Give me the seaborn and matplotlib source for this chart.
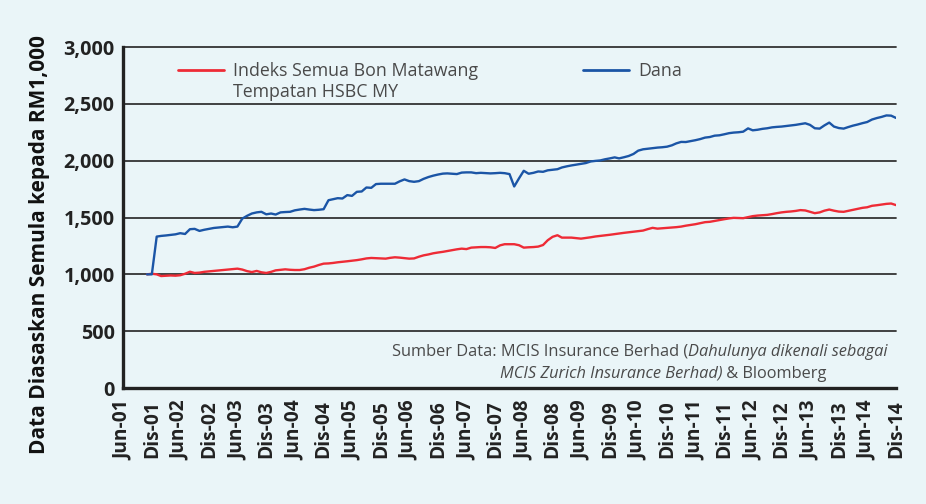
import numpy as np
import pandas as pd
import matplotlib
matplotlib.use("Agg")
import matplotlib.pyplot as plt
import seaborn as sns
from matplotlib.lines import Line2D

# ---------------- data (monthly, Nov-2001 .. Dec-2014) ----------------
start_month = "2001-11-30"

dana = [
    1000, 1000, 1332, 1338, 1342, 1347, 1352, 1362, 1355, 1397, 1400, 1382,
    1392, 1400, 1408, 1412, 1416, 1420, 1414, 1420, 1490, 1515, 1535, 1545,
    1550, 1528, 1535, 1526, 1545, 1548, 1550, 1563, 1570, 1576, 1570, 1565,
    1568, 1573, 1652, 1661, 1670, 1667, 1697, 1690, 1726, 1729, 1764, 1761,
    1794, 1797, 1797, 1797, 1797, 1818, 1835, 1820, 1814, 1820, 1840, 1856,
    1868, 1878, 1886, 1888, 1885, 1882, 1895, 1897, 1897, 1890, 1893, 1890,
    1888, 1890, 1893, 1890, 1882, 1773, 1845, 1911, 1885, 1893, 1905, 1902,
    1915, 1920, 1925, 1940, 1950, 1958, 1965, 1972, 1979, 1993, 1998, 2002,
    2012, 2020, 2029, 2020, 2030, 2041, 2059, 2088, 2100, 2105, 2110, 2115,
    2118, 2123, 2135, 2152, 2165, 2164, 2172, 2180, 2190, 2203, 2208, 2220,
    2223, 2232, 2242, 2247, 2250, 2255, 2284, 2267, 2272, 2280, 2285, 2293,
    2297, 2300, 2305, 2310, 2315, 2322, 2329, 2315, 2285, 2282, 2310, 2335,
    2300, 2287, 2282, 2295, 2308, 2318, 2330, 2340, 2362, 2375, 2385, 2398,
    2396, 2376,
]

indeks = [
    1000, 1005, 1000, 985, 988, 990, 988, 992, 1005, 1023, 1012, 1015,
    1022, 1026, 1030, 1034, 1038, 1042, 1046, 1050, 1042, 1028, 1020, 1030,
    1018, 1012, 1022, 1035, 1040, 1044, 1040, 1038, 1038, 1045, 1058, 1068,
    1082, 1094, 1096, 1100, 1106, 1110, 1115, 1120, 1125, 1132, 1140, 1144,
    1142, 1140, 1138, 1145, 1150, 1147, 1142, 1138, 1140, 1155, 1167, 1175,
    1185, 1192, 1198, 1205, 1212, 1220, 1226, 1222, 1235, 1238, 1240, 1240,
    1238, 1232, 1255, 1265, 1265, 1265, 1256, 1235, 1238, 1240, 1244, 1258,
    1300, 1330, 1344, 1323, 1323, 1323, 1318, 1314, 1320, 1326, 1333, 1338,
    1343, 1348, 1354, 1360, 1365, 1370, 1375, 1380, 1385, 1398, 1409, 1402,
    1405, 1408, 1412, 1415, 1420, 1428, 1435, 1441, 1450, 1459, 1462, 1470,
    1478, 1485, 1492, 1497, 1495, 1494, 1503, 1512, 1517, 1520, 1523, 1530,
    1538, 1545, 1550, 1553, 1558, 1565, 1562, 1550, 1538, 1545, 1560, 1570,
    1560, 1552, 1550, 1558, 1567, 1575, 1585, 1590, 1603, 1608, 1614, 1620,
    1623, 1609,
]

series_labels = ["Indeks Semua Bon Matawang", "Dana"]
series_label_line2 = "Tempatan HSBC MY"

tick_labels = [
    "Jun-01", "Dis-01", "Jun-02", "Dis-02", "Jun-03", "Dis-03", "Jun-04",
    "Dis-04", "Jun-05", "Dis-05", "Jun-06", "Dis-06", "Jun-07", "Dis-07",
    "Jun-08", "Dis-08", "Jun-09", "Dis-09", "Jun-10", "Dis-10", "Jun-11",
    "Dis-11", "Jun-12", "Dis-12", "Jun-13", "Dis-13", "Jun-14", "Dis-14",
]
y_ticks = [0, 500, 1000, 1500, 2000, 2500, 3000]
y_tick_labels = ["0", "500", "1,000", "1,500", "2,000", "2,500", "3,000"]

y_label = "Data Diasaskan Semula kepada RM1,000"
src_1a = "Sumber Data: MCIS Insurance Berhad ("
src_1b = "Dahulunya dikenali sebagai"
src_2a = "MCIS Zurich Insurance Berhad)"
src_2b = " & Bloomberg"

# ---------------- style ----------------
BG = "#EAF5F8"
RED = "#EE2B36"
BLUE = "#1B55A6"
TXT = "#4A4A4A"

sns.set_style("white")
plt.rcParams["font.family"] = ["Open Sans", "DejaVu Sans"]

W, H = 926, 504
fig = plt.figure(figsize=(W / 100, H / 100), dpi=100, facecolor=BG)
L, R, T, B = 123, 896, 47, 388
ax = fig.add_axes([L / W, 1 - B / H, (R - L) / W, (B - T) / H])
ax.set_facecolor(BG)

def ax_x(px):
    return (px - L) / (R - L)

def ax_y(py):
    return (B - py) / (B - T)

n = len(dana)
dates = pd.date_range(start_month, periods=n, freq="ME")
df = pd.DataFrame({
    "Tarikh": list(dates) * 2,
    "Nilai": indeks + dana,
    "Siri": [series_labels[0]] * n + [series_labels[1]] * n,
})

sns.lineplot(data=df, x="Tarikh", y="Nilai", hue="Siri",
             palette={series_labels[0]: RED, series_labels[1]: BLUE},
             linewidth=1.7, ax=ax, legend=False, zorder=3)

# axes
tick_dates = pd.date_range("2001-06-30", "2014-12-31", freq="6ME")
ax.set_xlim(tick_dates[0], tick_dates[-1])
ax.set_ylim(0, 3000)
ax.set_xticks(tick_dates)
ax.set_xticklabels(tick_labels, rotation=90, fontsize=13.8, fontweight="bold",
                   color="#222222")
ax.set_yticks(y_ticks)
ax.set_yticklabels(y_tick_labels, fontsize=14.2, fontweight="bold",
                   color="#222222")
ax.set_xlabel("")
ax.set_ylabel("")

ax.tick_params(axis="x", direction="out", length=6, width=2, color="#222222", pad=3)
ax.tick_params(axis="y", direction="out", length=4, width=1.5, color="#222222", pad=2)

for s in ["top", "right"]:
    ax.spines[s].set_visible(False)
for s in ["left", "bottom"]:
    ax.spines[s].set_color("#222222")
    ax.spines[s].set_linewidth(2.4)
    ax.spines[s].set_zorder(4)

ax.set_axisbelow(True)
ax.yaxis.grid(True, color="#333333", linewidth=1.3)
ax.xaxis.grid(False)
for gl in ax.get_ygridlines():
    gl.set_clip_on(False)

# y label
fig.text(40 / W, 1 - 245 / H, y_label, rotation=90, ha="center", va="center",
         fontsize=15, fontweight="bold", color="#111111")

# legends
fs_leg = 12.8
leg1 = ax.legend(handles=[Line2D([], [], color=RED, lw=2)], labels=[series_labels[0]],
                 loc="upper left", bbox_to_anchor=(ax_x(178), ax_y(62)),
                 frameon=False, handlelength=2.6, handletextpad=0.5,
                 borderpad=0, borderaxespad=0, fontsize=fs_leg, labelcolor=TXT)
ax.add_artist(leg1)
ax.text(ax_x(233), ax_y(92), series_label_line2, transform=ax.transAxes,
        ha="left", va="center", fontsize=fs_leg, color=TXT)
leg2 = ax.legend(handles=[Line2D([], [], color=BLUE, lw=2)], labels=[series_labels[1]],
                 loc="upper left", bbox_to_anchor=(ax_x(583), ax_y(62)),
                 frameon=False, handlelength=2.6, handletextpad=0.5,
                 borderpad=0, borderaxespad=0, fontsize=fs_leg, labelcolor=TXT)

# source note
fs_src = 11.8
t1b = ax.text(ax_x(888), ax_y(352), src_1b, transform=ax.transAxes, ha="right",
              va="center", fontsize=fs_src, style="italic", color=TXT)
ax.annotate(src_1a, xy=(0, 0), xycoords=t1b, ha="right", va="bottom",
            fontsize=fs_src, color=TXT)
t2b = ax.text(ax_x(827), ax_y(374), src_2b, transform=ax.transAxes, ha="right",
              va="center", fontsize=fs_src, color=TXT)
ax.annotate(src_2a, xy=(0, 0), xycoords=t2b, ha="right", va="bottom",
            fontsize=fs_src, style="italic", color=TXT)

fig.savefig("out.png", dpi=100, facecolor=BG)
